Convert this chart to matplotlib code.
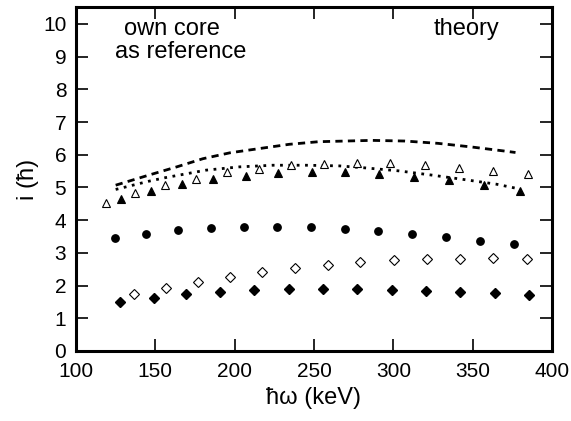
import matplotlib
matplotlib.use("Agg")
import matplotlib.pyplot as plt

plt.rcParams['font.family'] = ['Liberation Sans', 'DejaVu Sans']

# filled triangles
ftri_x = [128.5, 147.3, 167, 186.5, 206.9, 227.5, 248.5, 269.4, 291.25, 313.1, 335, 356.9, 379.6]
ftri_y = [4.66, 4.90, 5.10, 5.25, 5.36, 5.43, 5.48, 5.46, 5.41, 5.33, 5.22, 5.07, 4.89]
# open triangles
otri_x = [118.75, 137.5, 156.25, 175.6, 195.2, 215.2, 235.8, 256.25, 277, 297.9, 319.8, 341.25, 362.9, 384.8]
otri_y = [4.54, 4.82, 5.07, 5.27, 5.46, 5.58, 5.68, 5.73, 5.76, 5.74, 5.70, 5.61, 5.51, 5.40]
# filled circles
circ_x = [124.6, 144.4, 164.6, 185, 205.6, 226.9, 248, 269.4, 290.6, 312, 333.5, 354.8, 376.3]
circ_y = [3.45, 3.58, 3.69, 3.77, 3.79, 3.79, 3.79, 3.72, 3.66, 3.58, 3.48, 3.37, 3.26]
# open diamonds
odia_x = [136.5, 156.5, 177, 197, 217.3, 238, 258.6, 279.2, 300.4, 321.2, 342, 363, 384]
odia_y = [1.74, 1.93, 2.12, 2.27, 2.42, 2.54, 2.64, 2.71, 2.78, 2.81, 2.82, 2.83, 2.80]
# filled diamonds
fdia_x = [128, 149, 169.5, 191, 212.5, 234, 255.6, 277, 299, 320.6, 342, 363.8, 385.2]
fdia_y = [1.50, 1.63, 1.73, 1.81, 1.86, 1.89, 1.90, 1.89, 1.88, 1.84, 1.81, 1.77, 1.70]
# theory dashed
dash_x = [125, 146, 163.5, 180, 197, 215.6, 234.4, 253, 270, 286.4, 307.3, 328, 349, 369, 377]
dash_y = [5.07, 5.38, 5.63, 5.88, 6.06, 6.19, 6.32, 6.40, 6.42, 6.44, 6.42, 6.35, 6.24, 6.12, 6.07]
# theory dotted
dot_x = [125, 145.8, 156.25, 182, 203, 224, 245, 266, 282, 303, 324, 345, 365, 378]
dot_y = [4.94, 5.19, 5.30, 5.53, 5.63, 5.68, 5.68, 5.66, 5.60, 5.51, 5.38, 5.24, 5.10, 4.97]

xticks = [100, 150, 200, 250, 300, 350, 400]
yticks = list(range(0, 11))

fig = plt.figure(figsize=(5.71, 4.21), dpi=100)
ax = fig.add_axes([0.1331, 0.1663, 0.8336, 0.8164])

ax.plot(dash_x, dash_y, color='black', lw=2.0, linestyle=(0, (2.6, 1.9)))
ax.plot(dot_x, dot_y, color='black', lw=2.0, linestyle=(0, (1, 2)))

ax.plot(otri_x, otri_y, '^', ms=5.5, mfc='white', mec='black', mew=0.8, ls='none')
ax.plot(ftri_x, ftri_y, '^', ms=5.5, mfc='black', mec='black', mew=0.8, ls='none')
ax.plot(circ_x, circ_y, 'o', ms=5.3, mfc='black', mec='black', ls='none')
ax.plot(odia_x, odia_y, 'D', ms=4.6, mfc='white', mec='black', mew=0.8, ls='none')
ax.plot(fdia_x, fdia_y, 'D', ms=4.8, mfc='black', mec='black', ls='none')

ax.set_xlim(100, 400)
ax.set_ylim(0, 10.51)
ax.set_xticks(xticks)
ax.set_yticks(yticks)
ax.tick_params(direction='in', length=8.5, width=1.2, top=True, right=True,
               labelsize=15)
ax.tick_params(axis='x', pad=8)
ax.tick_params(axis='y', pad=7)
for s in ax.spines.values():
    s.set_linewidth(2.2)

ax.set_xlabel('ħω (keV)', fontsize=17, labelpad=4)
ax.set_ylabel('i (ħ)', fontsize=17, labelpad=3)

ax.text(0.101, 0.92, 'own core', transform=ax.transAxes, fontsize=17, va='baseline')
ax.text(0.082, 0.852, 'as reference', transform=ax.transAxes, fontsize=17, va='baseline')
ax.text(0.751, 0.92, 'theory', transform=ax.transAxes, fontsize=17, va='baseline')

fig.savefig('out.png', dpi=100)
